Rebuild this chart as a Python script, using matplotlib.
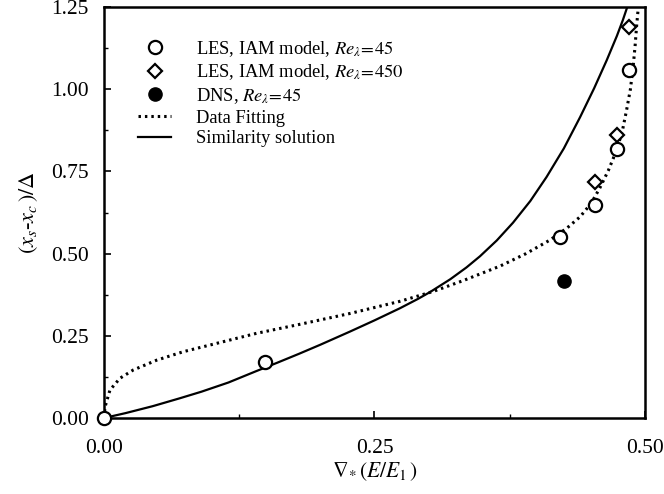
import matplotlib
matplotlib.use('AGG')
import matplotlib.pyplot as plt
from matplotlib.ticker import MultipleLocator, FormatStrFormatter

# Data
les45_x = [0.0, 0.149, 0.421, 0.454, 0.474, 0.485]
les45_y = [0.0, 0.170, 0.550, 0.648, 0.818, 1.058]
les450_x = [0.454, 0.474, 0.485]
les450_y = [0.719, 0.861, 1.190]
dns_x = [0.425]
dns_y = [0.417]

fit_x = [0.0, 0.001, 0.0055, 0.0148, 0.027, 0.0487, 0.0733, 0.104, 0.141, 0.181,
         0.2274, 0.2736, 0.3043, 0.332, 0.366, 0.39, 0.412, 0.428, 0.440, 0.450,
         0.458, 0.466, 0.4738, 0.479, 0.483, 0.4865, 0.489, 0.4908, 0.4922, 0.4938]
fit_y = [0.0, 0.034, 0.085, 0.121, 0.146, 0.176, 0.2017, 0.227, 0.2576, 0.285,
         0.318, 0.355, 0.385, 0.418, 0.462, 0.500, 0.541, 0.578, 0.612, 0.652,
         0.698, 0.752, 0.815, 0.872, 0.937, 1.000, 1.068, 1.130, 1.191, 1.249]

sim_x = [0.0, 0.02, 0.045, 0.07, 0.09, 0.115, 0.141, 0.16, 0.18, 0.20,
         0.2274, 0.25, 0.2736, 0.29, 0.3013, 0.32, 0.335, 0.3475, 0.363, 0.378,
         0.394, 0.409, 0.425, 0.44, 0.453, 0.4646, 0.474, 0.4795, 0.4836]
sim_y = [0.0, 0.015, 0.036, 0.060, 0.080, 0.108, 0.143, 0.168, 0.195, 0.223,
         0.263, 0.297, 0.334, 0.362, 0.383, 0.422, 0.458, 0.492, 0.540, 0.594,
         0.660, 0.733, 0.820, 0.915, 1.003, 1.088, 1.162, 1.210, 1.250]

plt.rcParams['font.family'] = ['Liberation Serif', 'DejaVu Serif']
plt.rcParams['mathtext.fontset'] = 'stix'

fig = plt.figure(figsize=(6.64, 4.94), dpi=100)
ax = fig.add_axes([0.1566, 0.1538, 0.8148, 0.832])

ax.plot(les45_x, les45_y, 'o', ms=9.5, mfc='white', mec='black', mew=1.6,
        label=r'LES, IAM model, $\mathit{Re}_{\lambda}\!=\!\mathit{45}$', clip_on=False, zorder=4)
ax.plot(les450_x, les450_y, 'D', ms=7.5, mfc='white', mec='black', mew=1.6,
        label=r'LES, IAM model, $\mathit{Re}_{\lambda}\!=\!\mathit{450}$', clip_on=False, zorder=4)
ax.plot(dns_x, dns_y, 'o', ms=9.5, color='black',
        label=r'DNS, $\mathit{Re}_{\lambda}\!=\!\mathit{45}$', zorder=4)
ax.plot(fit_x, fit_y, color='black', lw=2.2, linestyle=(0, (0.8, 1.3)), label='Data Fitting')
ax.plot(sim_x, sim_y, color='black', lw=1.6, label='Similarity solution')

ax.set_xlim(0, 0.5)
ax.set_ylim(0, 1.25)
ax.xaxis.set_major_locator(MultipleLocator(0.25))
ax.xaxis.set_minor_locator(MultipleLocator(0.125))
ax.yaxis.set_major_locator(MultipleLocator(0.25))
ax.yaxis.set_minor_locator(MultipleLocator(0.125))
ax.xaxis.set_major_formatter(FormatStrFormatter('%.2f'))
ax.yaxis.set_major_formatter(FormatStrFormatter('%.2f'))
ax.tick_params(which='major', direction='in', length=5, width=1.2, labelsize=15.5)
ax.tick_params(axis='y', which='major', pad=11)
ax.tick_params(axis='x', which='major', pad=15)
ax.tick_params(which='minor', direction='in', length=3, width=1.0)
for s in ax.spines.values():
    s.set_linewidth(1.8)

ax.set_xlabel(r'$\nabla_{\!*}(E/E_1\,)$', fontsize=15.5, labelpad=2)
ax.set_ylabel(r'$(x_s$-$x_c\,)/\Delta$', fontsize=16, labelpad=8)

ax.legend(loc='upper left', bbox_to_anchor=(138 / 664, 1 - 39 / 494),
          bbox_transform=fig.transFigure, frameon=False, fontsize=13.3,
          handlelength=1.8, handletextpad=1.35, labelspacing=0.2, borderpad=0,
          borderaxespad=0)

plt.savefig('out.png', dpi=100)
